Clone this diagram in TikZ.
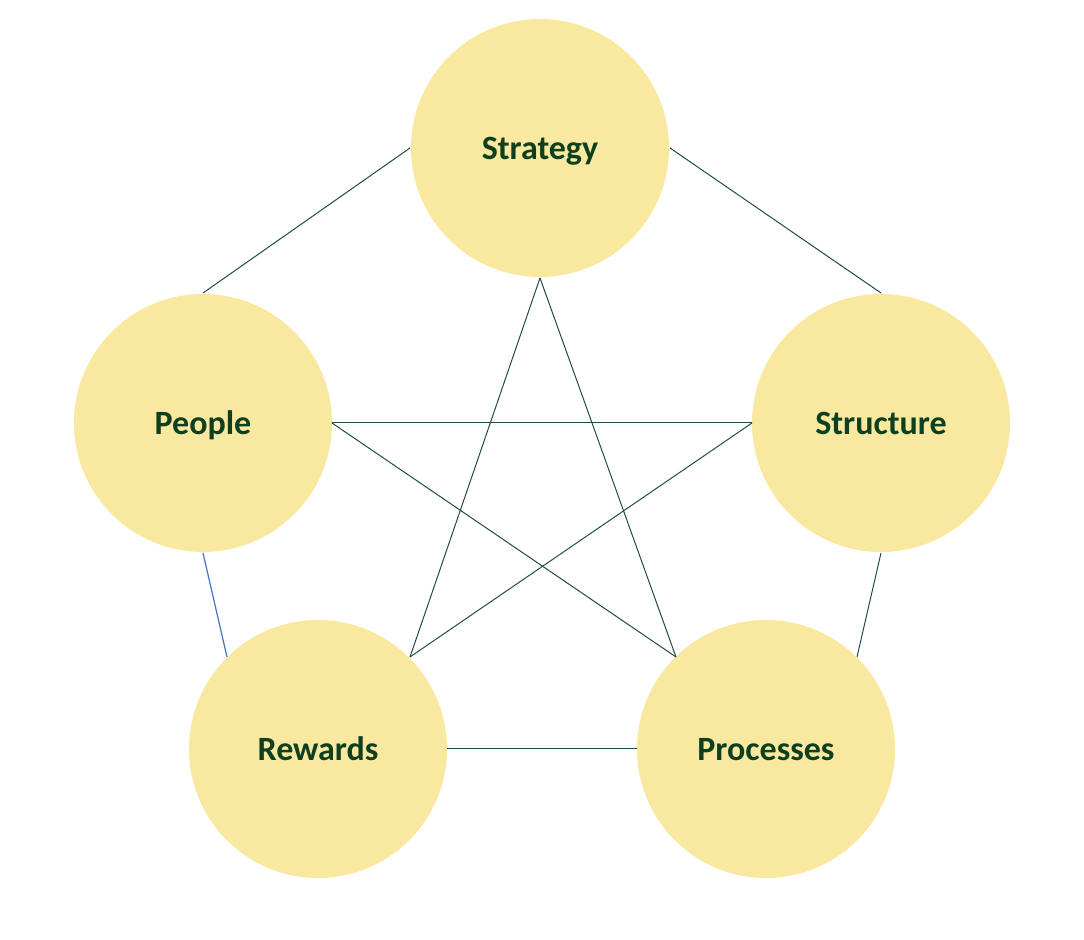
\documentclass[tikz,border=0pt]{standalone}
\usepackage{fontspec}
\setmainfont{Carlito}
\definecolor{circfill}{HTML}{F8E8A0}
\definecolor{txtgreen}{HTML}{0E3F1E}
\definecolor{linegreen}{HTML}{1F4E3D}
\definecolor{lineblue}{HTML}{4472C4}
\begin{document}
\begin{tikzpicture}[x=0.5pt,y=-0.5pt,
  circ/.style={circle,fill=circfill,minimum size=129pt,inner sep=0pt,
    text depth=0pt,
    font=\fontsize{17}{20}\selectfont\bfseries,text=txtgreen},
  conn/.style={draw=linegreen,line width=0.5pt},
  connb/.style={draw=lineblue,line width=0.6pt}]
\useasboundingbox (0,0) rectangle (1084,940);
\node[circ] (strat) at (540,148) {Strategy};
\node[circ] (people) at (203,423) {People};
\node[circ] (struct) at (881,423) {Structure};
\node[circ] (rew) at (318,749) {Rewards};
\node[circ] (proc) at (766,749) {Processes};
\coordinate (sL) at (410,148);
\coordinate (sR) at (670,148);
\coordinate (sB) at (540,278);
\coordinate (pT) at (203,293);
\coordinate (pR) at (332,423);
\coordinate (pB) at (203,553);
\coordinate (tT) at (881,293);
\coordinate (tL) at (752,423);
\coordinate (tB) at (881,553);
\coordinate (rTR) at (410,657);
\coordinate (rTL) at (227,657);
\coordinate (rR) at (447,749);
\coordinate (cTL) at (676,657);
\coordinate (cTR) at (857,657);
\coordinate (cL) at (637,749);
\draw[conn] (sL) -- (pT);
\draw[conn] (sR) -- (tT);
\draw[conn] (sB) -- (rTR);
\draw[conn] (sB) -- (cTL);
\draw[conn] (pR) -- (tL);
\draw[conn] (pR) -- (cTL);
\draw[conn] (tL) -- (rTR);
\draw[connb] (pB) -- (rTL);
\draw[conn] (tB) -- (cTR);
\draw[conn] (rR) -- (cL);
\end{tikzpicture}
\end{document}
